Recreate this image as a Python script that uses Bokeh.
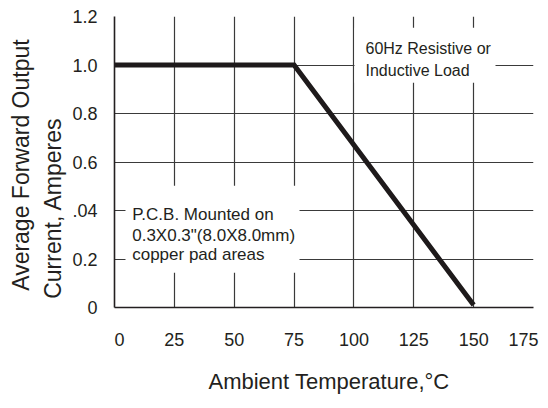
from bokeh.plotting import figure
from bokeh.models import Range1d, FixedTicker, Label, BoxAnnotation, Title
from bokeh.embed import file_html
from bokeh.resources import INLINE

# ---- data ----
temperature = [0, 75, 150]          # Ambient temperature, °C
current = [1.0, 1.0, 0.01]          # Average forward output current, A
x_ticks = [0, 25, 50, 75, 100, 125, 150, 175]
y_ticks = [0, 0.2, 0.4, 0.6, 0.8, 1.0, 1.2]
y_tick_labels = ["0", "0.2", ".04", "0.6", "0.8", "1.0", "1.2"]
x_tick_labels = ["\u00a0\u00a00", "25", "50", "75", "100", "125", "150", "175\u00a0\u00a0"]

FONT = "Liberation Sans"
INK = "#231f20"
GRID = "#3a3a3a"

p = figure(width=548, height=408, output_backend="svg", toolbar_location=None,
           x_range=Range1d(0, 175), y_range=Range1d(0, 1.2),
           min_border_left=114, min_border_right=15, min_border_top=16, min_border_bottom=101)
p.outline_line_color = None
p.background_fill_color = "white"
p.border_fill_color = "white"

for ax in (p.xaxis[0], p.yaxis[0]):
    ax.major_tick_in = 0
    ax.major_tick_out = 0
    ax.minor_tick_line_color = None
    ax.major_tick_line_color = None
    ax.axis_line_color = INK
    ax.axis_line_width = 1.6
    ax.major_label_text_font = FONT
    ax.major_label_text_font_size = "18px"
    ax.major_label_text_color = INK
    ax.major_label_text_font_style = "normal"

p.xaxis.ticker = FixedTicker(ticks=x_ticks)
p.yaxis.ticker = FixedTicker(ticks=y_ticks)
p.xaxis.major_label_overrides = {t: l for t, l in zip(x_ticks, x_tick_labels)}
p.yaxis.major_label_overrides = {t: l for t, l in zip(y_ticks, y_tick_labels)}
p.xaxis.major_label_standoff = 22
p.yaxis.major_label_standoff = 17

p.xgrid.ticker = FixedTicker(ticks=x_ticks)
p.ygrid.ticker = FixedTicker(ticks=y_ticks)
for g in (p.xgrid[0], p.ygrid[0]):
    g.grid_line_color = GRID
    g.grid_line_width = 1.2

p.line(temperature, current, line_width=5, line_color="#1e1a1b",
       line_cap="butt", line_join="miter")

# white note boxes (screen units, relative to the plot frame)
p.add_layout(BoxAnnotation(left=240, right=381, bottom=224.7, top=279.7,
                           left_units="screen", right_units="screen",
                           bottom_units="screen", top_units="screen",
                           fill_color="white", fill_alpha=1, line_color=None))
p.add_layout(BoxAnnotation(left=11, right=185, bottom=34.7, top=121.7,
                           left_units="screen", right_units="screen",
                           bottom_units="screen", top_units="screen",
                           fill_color="white", fill_alpha=1, line_color=None))

def lab(text, x, y, size):
    p.add_layout(Label(x=x, y=y, x_units="screen", y_units="screen", text=text,
                       text_font=FONT, text_font_size=size, text_color=INK,
                       text_align="left", text_baseline="alphabetic"))

lab("60Hz Resistive or", 251, 259, "16px")
lab("Inductive Load", 251, 237.4, "16px")

lab("P.C.B. Mounted on", 17.7, 93.4, "17px")
lab("0.3X0.3\"(8.0X8.0mm)", 17.7, 71.7, "17px")
lab("copper pad areas", 17.7, 52.7, "17px")

def side_title(text, place, offset, size, standoff):
    p.add_layout(Title(text=text, align="left", offset=offset, standoff=standoff,
                       text_font=FONT, text_font_size=size, text_font_style="normal",
                       text_color=INK), place)

side_title("Ambient Temperature,\u00b0C", "below", 94, "22px", 29)
side_title("Current, Amperes", "left", 8.7, "23px", 7)
side_title("Average Forward Output", "left", 16.7, "23px", 2)

open("out.html", "w").write(file_html(p, INLINE))
